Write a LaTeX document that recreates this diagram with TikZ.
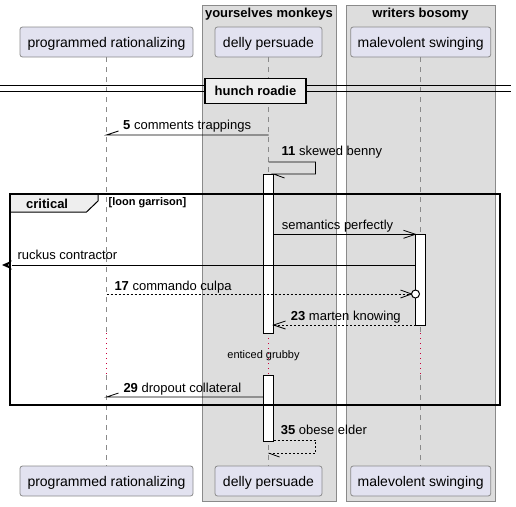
\documentclass[tikz,border=0pt]{standalone}
\usepackage{fontspec}
\setmainfont{Liberation Sans}
\usetikzlibrary{calc}
\definecolor{partfill}{HTML}{E2E2F0}
\definecolor{partdraw}{HTML}{8A8A8A}
\definecolor{boxfill}{HTML}{DDDDDD}
\definecolor{boxdraw}{HTML}{8A8A8A}
\definecolor{tabfill}{HTML}{EEEEEE}
\definecolor{delayred}{HTML}{C8003C}
\definecolor{lifegray}{HTML}{8A8A8A}
\begin{document}
\begin{tikzpicture}[x=1pt,y=-1pt,
  part/.style={draw=partdraw,fill=partfill,rounded corners=2.5pt,minimum height=30pt,inner sep=0pt,line width=0.8pt,font=\fontsize{14}{16}\selectfont,text height=11pt,text depth=1pt},
  boxbg/.style={draw=boxdraw,fill=boxfill,line width=0.8pt},
  boxtitle/.style={font=\fontsize{13}{15}\selectfont\bfseries,inner sep=0pt,anchor=base},
  lifeline/.style={draw=lifegray,dash pattern=on 5pt off 5pt,line width=0.8pt},
  delayline/.style={draw=delayred,dash pattern=on 1pt off 4pt,line width=1pt},
  msg/.style={draw=black,line width=0.8pt},
  rmsg/.style={draw=black,line width=0.8pt,dash pattern=on 2pt off 2pt},
  lbl/.style={font=\fontsize{13}{15}\selectfont,inner sep=0pt,anchor=base west},
  actbar/.style={draw=black,fill=white,line width=0.8pt},
  framestyle/.style={draw=black,line width=1.5pt}
]
\useasboundingbox (0,0) rectangle (516,506);
% boxes
\draw[boxbg] (202,5) rectangle (336,501);
\draw[boxbg] (346,5) rectangle (495,501);
\node[boxtitle] (t1) at (269,17.3) {yourselves monkeys};
\node[boxtitle] (t2) at (420.5,17.3) {writers bosomy};
% participants
\node[part,minimum width=173pt] (pA) at (106.5,42) {programmed rationalizing};
\node[part,minimum width=107pt] (pB) at (268.5,42) {delly persuade};
\node[part,minimum width=140pt] (pC) at (420.7,42) {malevolent swinging};
\node[part,minimum width=173pt] (qA) at (106.5,481) {programmed rationalizing};
\node[part,minimum width=107pt] (qB) at (268.5,481) {delly persuade};
\node[part,minimum width=140pt] (qC) at (420.7,481) {malevolent swinging};
% lifelines
\coordinate (dA1) at (106.5,333); \coordinate (dA2) at (106.5,375);
\coordinate (dB1) at (268.5,333); \coordinate (dB2) at (268.5,375);
\coordinate (dC1) at (420.7,333); \coordinate (dC2) at (420.7,375);
\draw[lifeline] (pA.south) -- (dA1);
\draw[lifeline] (dA2) -- (qA.north);
\draw[lifeline] (pB.south) -- (dB1);
\draw[lifeline] (dB2) -- (qB.north);
\draw[lifeline] (pC.south) -- (dC1);
\draw[lifeline] (dC2) -- (qC.north);
\draw[delayline] (dA1) -- (dA2);
\draw[delayline] (dB1) -- (dB2);
\draw[delayline] (dC1) -- (dC2);
% divider
\coordinate (dvl) at (0,85.5); \coordinate (dvr) at (511,85.5);
\coordinate (dvl2) at (0,91); \coordinate (dvr2) at (511,91);
\draw[line width=0.9pt] (dvl) -- (dvr);
\draw[line width=0.9pt] (dvl2) -- (dvr2);
\node[draw=black,fill=tabfill,line width=1.5pt,minimum width=101pt,minimum height=25pt,inner sep=0pt,font=\fontsize{13}{15}\selectfont\bfseries] (div) at (255.5,91) {hunch roadie};
% activation bars
\draw[actbar] (263.5,174) rectangle (273.5,333);
\draw[actbar] (263.5,375) rectangle (273.5,441);
\draw[actbar] (415.5,234) rectangle (425.5,325);
% message 5
\coordinate (m5a) at (268.5,135); \coordinate (m5b) at (106.5,135);
\draw[msg] (m5a) -- (m5b) -- ++(12,-4);
\node[lbl] (l5) at (123,129) {\textbf{5} comments trappings};
% message 11
\coordinate (m11a) at (268.5,162); \coordinate (m11b) at (315.5,162);
\coordinate (m11c) at (315.5,174); \coordinate (m11d) at (273.5,174);
\draw[msg] (m11a) -- (m11b) -- (m11c) -- (m11d) -- ++(11,4);
\node[lbl] (l11) at (281.5,155.7) {\textbf{11} skewed benny};
% critical frame
\draw[framestyle] (10,194) rectangle (500,405);
\draw[draw=black,fill=tabfill,line width=1pt] (10,194) -- (98,194) -- (98,201) -- (86.5,212) -- (10,212) -- cycle;
\draw[framestyle] (10,194) -- (500,194);
\draw[framestyle] (10,194) -- (10,405);
\node[font=\fontsize{13}{15}\selectfont\bfseries,inner sep=0pt,anchor=base west] (crit) at (26,208.3) {critical};
\node[font=\fontsize{11}{13}\selectfont\bfseries,inner sep=0pt,anchor=base west] (guard) at (108.5,205) {[loon garrison]};
% semantics perfectly
\coordinate (ma) at (273.5,234.3); \coordinate (mb) at (415.5,234.3);
\draw[msg] (ma) -- (mb);
\draw[msg] ($(mb)+(-12,-4)$) -- (mb) -- ($(mb)+(-12,4)$);
\node[lbl] (lsem) at (281.7,229) {semantics perfectly};
% ruckus contractor
\coordinate (ra) at (415.5,265); \coordinate (rb) at (12,265); \coordinate (rt) at (2,265);
\draw[msg] (ra) -- (rb);
\fill[black] (rt) -- (12,260.5) -- (8,265) -- (12,269.5) -- cycle;
\node[lbl] (lruck) at (17.3,259.3) {ruckus contractor};
% message 17
\coordinate (s17a) at (106.5,294); \coordinate (s17b) at (411.5,294); \coordinate (s17c) at (415.5,294);
\draw[rmsg] (s17a) -- (s17b);
\draw[msg] ($(s17b)+(-11,-4)$) -- (s17b) -- ($(s17b)+(-11,4)$);
\draw[line width=1pt,fill=white] (s17c) circle (4);
\node[lbl] (l17) at (114.3,290.7) {\textbf{17} commando culpa};
% message 23
\coordinate (s23a) at (415.5,325); \coordinate (s23b) at (273.5,325);
\draw[rmsg] (s23a) -- (s23b);
\draw[msg] ($(s23b)+(12,-4)$) -- (s23b) -- ($(s23b)+(12,4)$);
\node[lbl] (l23) at (290.7,320.7) {\textbf{23} marten knowing};
% delay text
\node[font=\fontsize{11}{13}\selectfont,inner sep=0pt,anchor=base] (delay) at (263.5,358.3) {enticed grubby};
% message 29
\coordinate (m29a) at (263.5,397); \coordinate (m29b) at (106.5,397);
\draw[msg] (m29a) -- (m29b) -- ++(12,-4);
\node[lbl] (l29) at (123.3,392.7) {\textbf{29} dropout collateral};
% message 35
\coordinate (m35a) at (273.5,440); \coordinate (m35b) at (315.5,440);
\coordinate (m35c) at (315.5,453); \coordinate (m35d) at (268.5,453);
\draw[rmsg] (m35a) -- (m35b) -- (m35c) -- (m35d);
\draw[msg] (m35d) -- ++(11,4);
\node[lbl] (l35) at (280.7,434.3) {\textbf{35} obese elder};
\end{tikzpicture}
\end{document}
